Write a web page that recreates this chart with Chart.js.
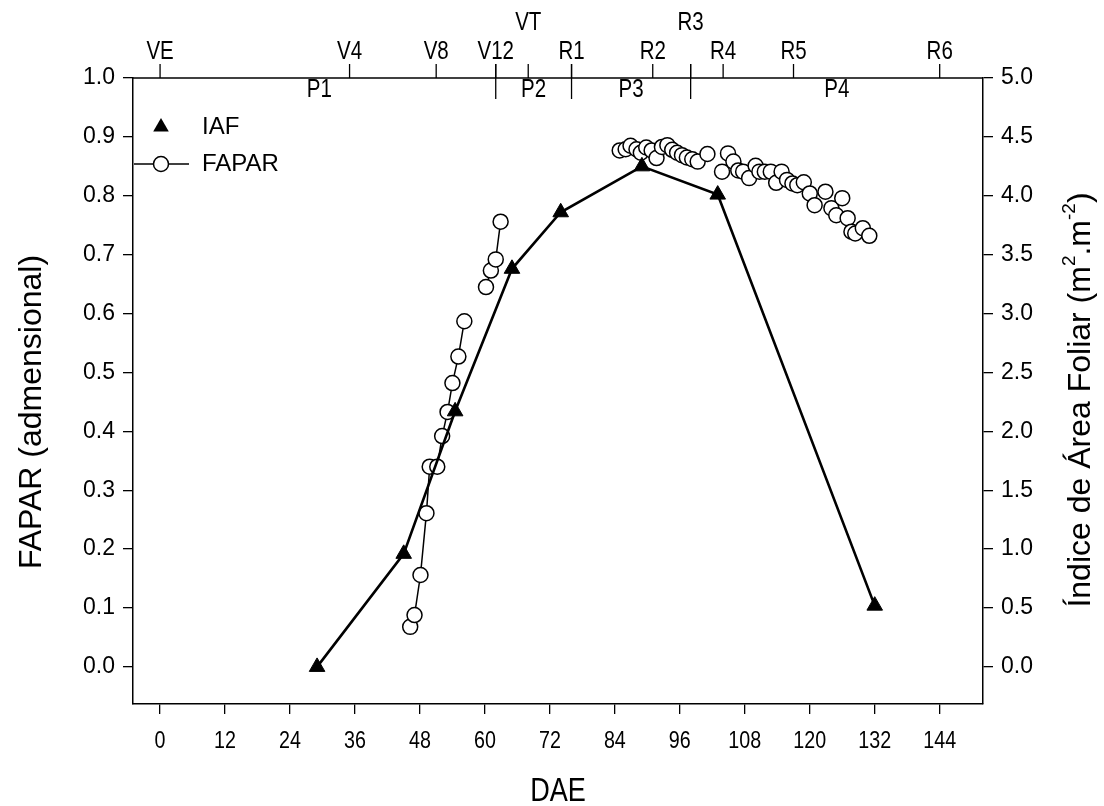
<!DOCTYPE html>
<html><head><meta charset="utf-8">
<script src="https://cdn.jsdelivr.net/npm/chart.js@4.4.1/dist/chart.umd.min.js"></script>
<style>html,body{margin:0;padding:0;background:#fff;}#wrap{width:1104px;height:806px;position:relative;}</style>
</head><body><div id="wrap"><canvas id="c" width="1104" height="806"></canvas></div>
<script>
// ---- data ----
const xTicks = [0, 12, 24, 36, 48, 60, 72, 84, 96, 108, 120, 132, 144];
const faparTicks = [0.0, 0.1, 0.2, 0.3, 0.4, 0.5, 0.6, 0.7, 0.8, 0.9, 1.0];
const iafTicks = [0.0, 0.5, 1.0, 1.5, 2.0, 2.5, 3.0, 3.5, 4.0, 4.5, 5.0];

const iafDays   = [29, 45, 54.5, 65, 74, 89, 103, 132];
const iafValues = [0.0, 0.96, 2.17, 3.38, 3.86, 4.25, 4.01, 0.52];

// FAPAR measured with connecting line (null = break in line)
const faparLineDays   = [46.2, 47.0, 48.1, 49.2, 49.8, 51.2, 52.1, 53.1, 54.0, 55.1, 56.2, 58, 60.2, 61.1, 62.0, 62.9];
const faparLineValues = [0.068, 0.088, 0.156, 0.261, 0.340, 0.340, 0.392, 0.433, 0.482, 0.527, 0.587, null, 0.645, 0.673, 0.692, 0.756];
// FAPAR dense measurements (markers only)
const faparDotDays = [84.9, 86.0, 86.9, 88.0, 88.8, 89.8, 90.8, 91.7, 92.7, 93.7, 94.6, 95.5, 96.4, 97.3, 98.3, 99.3, 101.1,
  103.8, 104.9, 105.9, 106.8, 107.7, 108.8, 110.0, 110.7, 111.7, 112.8, 113.8, 114.8, 115.8, 116.8, 117.7, 118.9,
  120.0, 120.9, 122.9, 124.0, 124.9, 126.0, 127.0, 127.7, 128.4, 129.8, 131.0];
const faparDotValues = [0.877, 0.879, 0.885, 0.879, 0.873, 0.882, 0.877, 0.864, 0.883, 0.886, 0.878, 0.873, 0.869, 0.865, 0.862, 0.858, 0.871,
  0.841, 0.872, 0.858, 0.843, 0.841, 0.830, 0.851, 0.841, 0.841, 0.841, 0.822, 0.841, 0.827, 0.821, 0.818, 0.823,
  0.804, 0.784, 0.807, 0.779, 0.767, 0.796, 0.762, 0.739, 0.736, 0.745, 0.732];

const stageLabels = ['VE', 'V4', 'V8', 'V12', 'VT', 'R1', 'R2', 'R3', 'R4', 'R5', 'R6'];
const stageDays   = [0, 35, 51, 62, 68, 76, 91, 98, 104, 117, 144];
const raisedStages = ['VT', 'R3'];
const periodLabels = ['P1', 'P2', 'P3', 'P4'];
const periodBounds = [62, 76, 98];

const seriesNames = ['IAF', 'FAPAR'];
const xTitle = 'DAE';
const yTitle = 'FAPAR (admensional)';

// ---- styling ----
const SANS = "'Liberation Sans', Arial, sans-serif";
const SQUEEZE = 0.82; // emulate a narrow face

const pts = (xs, ys) => xs.map((x, i) => ({x: x, y: ys[i]}));

function narrowText(ctx, text, x, y, size) {
  ctx.save();
  ctx.translate(x, y);
  ctx.scale(SQUEEZE, 1);
  ctx.font = size + 'px ' + SANS;
  ctx.textAlign = 'center';
  ctx.textBaseline = 'middle';
  ctx.fillText(text, 0, 0);
  ctx.restore();
}

const framePlugin = {
  id: 'frame',
  afterDraw(chart) {
    const {ctx, chartArea: a, scales} = chart;
    const xs = scales.x;
    ctx.save();
    ctx.strokeStyle = '#000';
    ctx.fillStyle = '#000';
    // top frame line
    ctx.lineWidth = 1.5;
    ctx.beginPath(); ctx.moveTo(a.left, a.top); ctx.lineTo(a.right, a.top); ctx.stroke();
    // bottom tick labels (narrow face) at the library's tick positions
    xs.ticks.forEach(t => narrowText(ctx, String(t.value), xs.getPixelForValue(t.value), a.bottom + 37, 24));
    // stage ticks + labels
    ctx.lineWidth = 1.3;
    stageDays.forEach((d, i) => {
      const px = xs.getPixelForValue(d);
      ctx.beginPath(); ctx.moveTo(px, a.top - 14); ctx.lineTo(px, a.top); ctx.stroke();
      const raised = raisedStages.includes(stageLabels[i]);
      narrowText(ctx, stageLabels[i], px, raised ? a.top - 55 : a.top - 26, 25);
    });
    periodBounds.forEach(d => {
      const px = xs.getPixelForValue(d);
      ctx.beginPath(); ctx.moveTo(px, a.top - 14); ctx.lineTo(px, a.top + 21); ctx.stroke();
    });
    // period labels centred between dividers
    const edges = [xs.min].concat(periodBounds, [xs.max]);
    periodLabels.forEach((p, i) => {
      const c = (xs.getPixelForValue(edges[i]) + xs.getPixelForValue(edges[i + 1])) / 2;
      narrowText(ctx, p, c + (i === 0 ? 5 : 0), a.top + 12, 25);
    });
    // axis titles
    narrowText(ctx, xTitle, (a.left + a.right) / 2, 792, 33);
    ctx.textAlign = 'center'; ctx.textBaseline = 'middle';
    ctx.font = "32px " + SANS;
    ctx.save();
    ctx.translate(32, 412);
    ctx.rotate(-Math.PI / 2);
    ctx.fillText(yTitle, 0, 0);
    ctx.restore();
    // right title with superscripts
    ctx.save();
    ctx.translate(1081, 400);
    ctx.rotate(-Math.PI / 2);
    const parts = [['Índice de Área Foliar (m', 0], ['2', 1], ['.m', 0], ['-2', 1], [')', 0]];
    const big = "32px " + SANS, small = "19px " + SANS;
    let total = 0;
    parts.forEach(p => { ctx.font = p[1] ? small : big; total += ctx.measureText(p[0]).width; });
    let cx = -total / 2;
    ctx.textAlign = 'left';
    parts.forEach(p => {
      ctx.font = p[1] ? small : big;
      ctx.fillText(p[0], cx, p[1] ? -11 : 0);
      cx += ctx.measureText(p[0]).width;
    });
    ctx.restore();
    // legend
    const lx = 161, ly1 = 127, ly2 = 164;
    ctx.beginPath();
    const r = 9;
    ctx.moveTo(lx, ly1 - r); ctx.lineTo(lx + r * 0.866, ly1 + r * 0.5); ctx.lineTo(lx - r * 0.866, ly1 + r * 0.5); ctx.closePath();
    ctx.fill();
    ctx.lineWidth = 1.5;
    ctx.beginPath(); ctx.moveTo(a.left + 1, ly2); ctx.lineTo(189, ly2); ctx.stroke();
    ctx.beginPath(); ctx.arc(lx, ly2, 7.5, 0, Math.PI * 2); ctx.fillStyle = '#fff'; ctx.fill(); ctx.stroke();
    ctx.fillStyle = '#000';
    ctx.font = "24px " + SANS; ctx.textAlign = 'left'; ctx.textBaseline = 'middle';
    ctx.fillText(seriesNames[0], 202, ly1);
    ctx.fillText(seriesNames[1], 202, ly2);
    ctx.restore();
  }
};

const tickGrid = {drawOnChartArea: false, drawTicks: true, tickLength: 10, color: '#000', lineWidth: 1.3};

new Chart(document.getElementById('c'), {
  data: {
    datasets: [
      {type: 'line', label: seriesNames[1], data: pts(faparLineDays, faparLineValues), yAxisID: 'y',
       borderColor: '#000', borderWidth: 1.5, backgroundColor: '#fff', pointBackgroundColor: '#fff',
       pointBorderColor: '#000', pointBorderWidth: 1.5, pointRadius: 7.5, pointStyle: 'circle', spanGaps: false, order: 3},
      {type: 'line', label: seriesNames[1], data: pts(faparDotDays, faparDotValues), yAxisID: 'y', showLine: false,
       pointBackgroundColor: '#fff', pointBorderColor: '#000', pointBorderWidth: 1.5, pointRadius: 7.5, order: 2},
      {type: 'line', label: seriesNames[0], data: pts(iafDays, iafValues), yAxisID: 'y2',
       borderColor: '#000', borderWidth: 2.6, pointStyle: 'triangle', pointRadius: 9, pointBackgroundColor: '#000',
       pointBorderColor: '#000', pointBorderWidth: 1, tension: 0, order: 1}
    ]
  },
  options: {
    responsive: false, animation: false, devicePixelRatio: 1,
    layout: {padding: {top: 78, left: 0, right: 0, bottom: 0}},
    plugins: {legend: {display: false}, tooltip: {enabled: false}},
    scales: {
      x: {type: 'linear', position: 'bottom', min: -5, max: 152,
          afterBuildTicks: s => { s.ticks = xTicks.map(v => ({value: v})); },
          afterFit: s => { s.height = 102; },
          grid: tickGrid, border: {color: '#000', width: 1.5},
          ticks: {color: 'rgba(0,0,0,0)', font: {family: SANS, size: 20}, padding: 12, maxRotation: 0, autoSkip: false,
                  callback: v => String(v)}},
      y: {type: 'linear', position: 'left', min: -0.063, max: 1.0,
          afterBuildTicks: s => { s.ticks = faparTicks.map(v => ({value: v})); },
          afterFit: s => { s.width = 133; },
          grid: tickGrid, border: {color: '#000', width: 1.5},
          ticks: {color: '#000', font: {family: SANS, size: 23}, padding: 8, autoSkip: false,
                  callback: v => v.toFixed(1)}},
      y2: {type: 'linear', position: 'right', min: -0.315, max: 5.0,
          afterBuildTicks: s => { s.ticks = iafTicks.map(v => ({value: v})); },
          afterFit: s => { s.width = 121; },
          grid: tickGrid, border: {color: '#000', width: 1.5},
          ticks: {color: '#000', font: {family: SANS, size: 23}, padding: 8, autoSkip: false,
                  callback: v => v.toFixed(1)}}
    }
  },
  plugins: [framePlugin]
});
</script></body></html>
